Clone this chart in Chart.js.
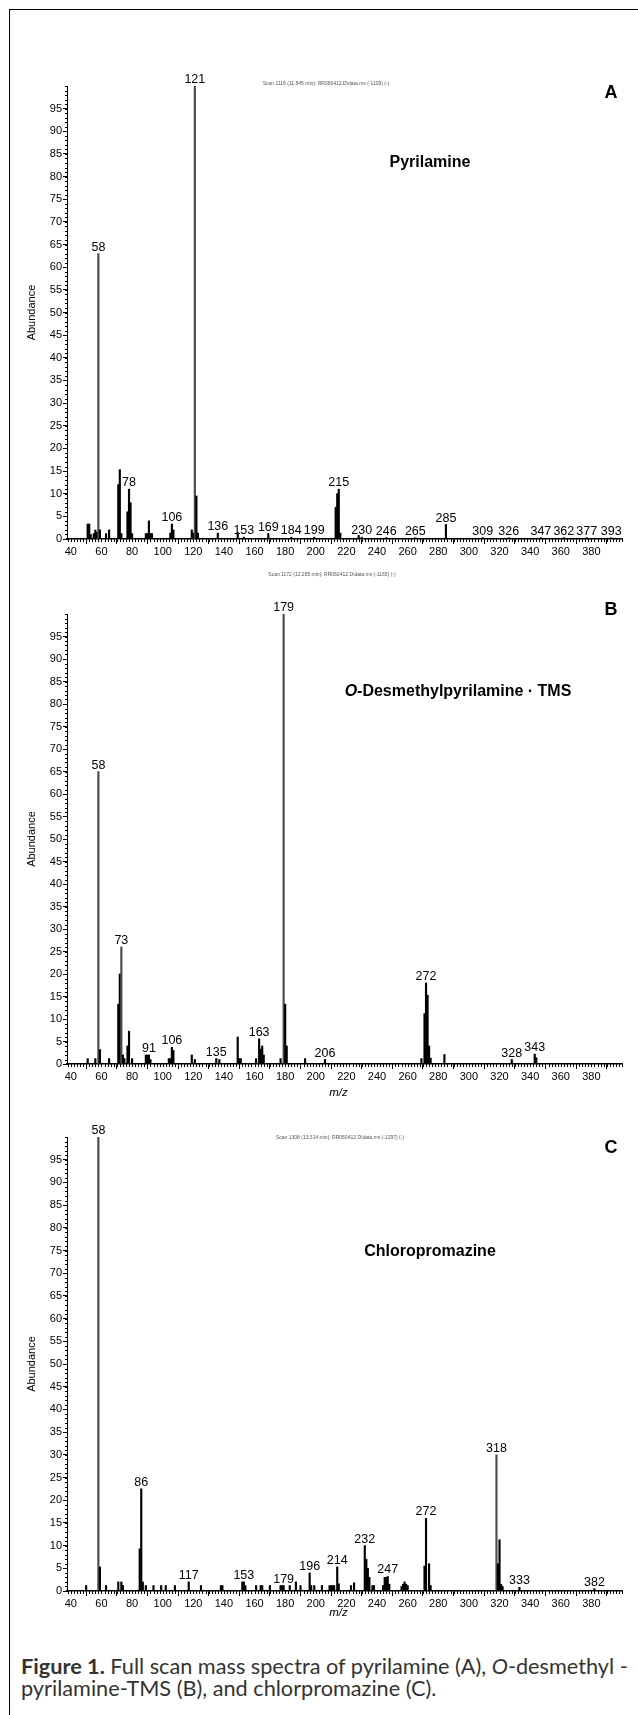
<!DOCTYPE html>
<html>
<head>
<meta charset="utf-8">
<script src="https://cdn.jsdelivr.net/npm/chart.js@4.4.0/dist/chart.umd.min.js"></script>
<style>
  html, body { margin: 0; padding: 0; background: #fff; }
  #page { position: relative; width: 638px; height: 1715px; overflow: hidden; background: #fff; }
  .frame { position: absolute; left: 9px; top: 9px; width: 700px; height: 1800px; border-left: 1px solid #000; border-top: 1px solid #000; }
  .panel { position: absolute; left: 0; }
  #caption { position: absolute; left: 21px; top: 1655px; font-family: Lato, "Open Sans", sans-serif; color: #333; line-height: 22px; white-space: nowrap; }
  #caption b { font-weight: 700; }
</style>
</head>
<body>
<div id="page">
  <div class="frame"></div>
  <canvas id="chartA" class="panel" width="638" height="565" style="top:0px"></canvas>
  <canvas id="chartB" class="panel" width="638" height="545" style="top:565px"></canvas>
  <canvas id="chartC" class="panel" width="638" height="520" style="top:1110px"></canvas>
  <div id="caption">
    <div id="capLine1"><b>Figure 1.</b> Full scan mass spectra of pyrilamine (A), <i>O</i>-desmethyl -</div>
    <div>pyrilamine-TMS (B), and chlorpromazine (C).</div>
  </div>
</div>
<script>
// axis ticks
const xTicks = [40, 60, 80, 100, 120, 140, 160, 180, 200, 220, 240, 260, 280, 300, 320, 340, 360, 380];
const yTicks = [0, 5, 10, 15, 20, 25, 30, 35, 40, 45, 50, 55, 60, 65, 70, 75, 80, 85, 90, 95];

// A - pyrilamine
const aMz = [51, 52, 53, 55, 56, 57, 58, 59, 63, 65, 71, 72, 73, 77, 78, 79, 80, 89, 90, 91, 92, 93, 105, 106, 107,
  119, 120, 121, 122, 123, 136, 149, 153, 169, 184, 199, 213, 214, 215, 216, 228, 230, 246, 265, 285,
  309, 326, 347, 362, 377, 393];
const aAb = [3.3, 3.3, 1, 1.2, 2, 1.5, 63, 2, 1.2, 2, 12, 15.3, 1.2, 6, 11, 8, 1.2, 1.2, 1.2, 4, 1.2, 1.2, 1.3, 3.3, 2,
  2, 1.3, 100, 9.5, 1.3, 1.3, 1.5, 0.4, 1.2, 0.4, 0.4, 7, 10, 11, 1.3, 0.8, 0.4, 0.3, 0.3, 3.2,
  0.3, 0.3, 0.3, 0.3, 0.3, 0.3];
const aLabels = [58, 78, 106, 121, 136, 153, 169, 184, 199, 215, 230, 246, 265, 285, 309, 326, 347, 362, 377, 393];

// B - O-desmethylpyrilamine TMS
const bMz = [51, 56, 58, 59, 65, 71, 72, 73, 74, 75, 77, 78, 80, 89, 90, 91, 92, 104, 105, 106, 107, 119, 121, 135, 137,
  149, 150, 151, 161, 163, 164, 165, 166, 177, 179, 180, 181, 193, 206, 269, 271, 272, 273, 274, 275, 284, 328, 343, 344];
const bAb = [1.2, 1.2, 65, 3.2, 1.2, 13.3, 20, 26, 2, 1.2, 4, 7.3, 1.2, 2, 2, 2, 1, 1.2, 1.2, 3.7, 3, 2, 1, 1.2, 1,
  6, 1.2, 1.2, 1.2, 5.6, 3.3, 4, 2, 1.2, 100, 13.3, 4, 1.2, 1, 1.2, 11.2, 18, 15.3, 4, 1.3, 2.1, 1, 2.2, 1.4];
const bLabels = [58, 73, 91, 106, 135, 163, 179, 206, 272, 328, 343];

// C - chlorpromazine
const cMz = [50, 58, 59, 63, 71, 73, 74, 85, 86, 87, 89, 94, 99, 102, 108, 117, 125, 138, 139, 152, 153, 154,
  161, 164, 165, 170, 177, 178, 179, 183, 187, 190, 196, 197, 199, 204, 209, 210, 211, 212, 214, 215, 223, 225,
  232, 233, 234, 235, 237, 238, 244, 245, 246, 247, 248, 256, 257, 258, 259, 260, 271, 272, 274, 275,
  318, 319, 320, 321, 322, 333, 382];
const cAb = [1.2, 100, 5.3, 1.2, 2, 2, 1.2, 9.3, 22.5, 2, 1.2, 1.2, 1.2, 1.2, 1.2, 2, 1.2, 1.2, 1.2, 2, 2, 1.2,
  1.2, 1.2, 1.2, 1.2, 1.2, 1.2, 1.2, 1.2, 2, 1.2, 4, 1.2, 1.2, 1.2, 1.2, 1.2, 1.2, 1.2, 5.3, 1.6, 1.2, 1.8,
  10, 7, 5, 3, 1.2, 1.2, 1.2, 3, 3, 3.2, 1.5, 1, 1.5, 2, 1.5, 1.2, 5.5, 16, 6, 1.2,
  30, 6, 11.3, 1.5, 1, 0.8, 0.5];
const cLabels = [58, 86, 117, 153, 179, 196, 214, 232, 247, 272, 318, 333, 382];

const SANS = '"Liberation Sans", Arial, sans-serif';

// small ticks: every unit on y (the dotted look), every 2 on x
const minorTicks = {
  id: 'minorTicks',
  afterDraw(chart) {
    const { ctx, chartArea: a, scales: { x, y } } = chart;
    ctx.save();
    ctx.strokeStyle = '#000';
    ctx.lineWidth = 1;
    ctx.beginPath();
    for (let v = 0; v <= 100; v++) {
      const py = Math.round(y.getPixelForValue(v)) + 0.5;
      ctx.moveTo(a.left - 2, py);
      ctx.lineTo(a.left, py);
    }
    for (let v = 38; v <= 400; v += 2) {
      const px = Math.round(x.getPixelForValue(v)) + 0.5;
      ctx.moveTo(px, a.bottom);
      ctx.lineTo(px, a.bottom + 3);
    }
    ctx.stroke();
    ctx.restore();
  }
};

// m/z numbers over the labelled peaks
const peakLabels = {
  id: 'peakLabels',
  afterDatasetsDraw(chart, args, opts) {
    const { ctx } = chart;
    const pts = chart.data.datasets[0].data;
    const meta = chart.getDatasetMeta(0);
    ctx.save();
    ctx.font = '12.5px ' + SANS;
    ctx.fillStyle = '#000';
    ctx.textAlign = 'center';
    ctx.textBaseline = 'alphabetic';
    meta.data.forEach((bar, i) => {
      if (opts.marks.includes(pts[i].x)) ctx.fillText(String(pts[i].x), bar.x, bar.y - 3);
    });
    ctx.restore();
  }
};

// panel letter, compound name, scan header, axis titles
const panelText = {
  id: 'panelText',
  afterDraw(chart, args, o) {
    const { ctx, chartArea: a } = chart;
    ctx.save();
    ctx.fillStyle = '#000';
    ctx.textBaseline = 'middle';

    ctx.font = 'bold 18px ' + SANS;
    ctx.textAlign = 'center';
    ctx.fillText(o.letter, 611, o.letterY);

    // compound name, parts may be italic
    let total = 0;
    const parts = o.title.map(p => {
      ctx.font = (p.italic ? 'italic ' : '') + 'bold 16px ' + SANS;
      const w = ctx.measureText(p.text).width;
      total += w;
      return { ...p, w };
    });
    let tx = o.titleX - total / 2;
    ctx.textAlign = 'left';
    parts.forEach(p => {
      ctx.font = (p.italic ? 'italic ' : '') + 'bold 16px ' + SANS;
      ctx.fillText(p.text, tx, o.titleY);
      tx += p.w;
    });

    ctx.fillStyle = '#555';
    ctx.font = '5px ' + SANS;
    ctx.textAlign = 'center';
    ctx.fillText(o.scan, o.scanX, o.scanY);

    ctx.fillStyle = '#000';
    ctx.save();
    ctx.translate(32, (a.top + a.bottom) / 2);
    ctx.rotate(-Math.PI / 2);
    ctx.font = '11px ' + SANS;
    ctx.fillText('Abundance', 0, 0);
    ctx.restore();

    if (o.mzY) {
      ctx.font = 'italic 11.5px ' + SANS;
      ctx.fillText('m/z', (a.left + a.right) / 2 - 6, o.mzY);
    }
    ctx.restore();
  }
};

function makeChart(id, mz, ab, marks, panel) {
  const ctx = document.getElementById(id);
  return new Chart(ctx, {
    type: 'bar',
    data: {
      datasets: [{
        data: mz.map((m, i) => ({ x: m, y: ab[i] })),
        // the tall peaks print as thin grey lines in the original
        backgroundColor: (c) => (c.raw && c.raw.y > 25 ? '#4a4a4a' : '#000'),
        barThickness: 1.5,
        grouped: false
      }]
    },
    options: {
      responsive: false,
      animation: false,
      devicePixelRatio: 1,
      layout: { padding: { top: panel.padTop, left: 9, right: 16, bottom: 0 } },
      plugins: {
        legend: { display: false },
        tooltip: { enabled: false },
        peakLabels: { marks },
        panelText: panel
      },
      scales: {
        x: {
          type: 'linear',
          min: 37.5,
          max: 400,
          offset: false,
          afterBuildTicks: (s) => { s.ticks = xTicks.map(v => ({ value: v })); },
          afterFit: (s) => { s.height = panel.xAxisH; },
          grid: { drawOnChartArea: false, tickLength: 5, color: '#000' },
          border: { color: '#000', width: 1.5 },
          ticks: { font: { family: SANS, size: 11 }, color: '#000', padding: 1, maxRotation: 0, autoSkip: false }
        },
        y: {
          min: 0,
          max: 100,
          afterBuildTicks: (s) => { s.ticks = yTicks.map(v => ({ value: v })); },
          afterFit: (s) => { s.width = 58; },
          grid: { drawOnChartArea: false, tickLength: 4, color: '#000' },
          border: { color: '#000', width: 1 },
          ticks: { font: { family: SANS, size: 11 }, color: '#000', padding: 1 }
        }
      }
    },
    plugins: [minorTicks, peakLabels, panelText]
  });
}

makeChart('chartA', aMz, aAb, aLabels, {
  padTop: 86, xAxisH: 26,
  letter: 'A', letterY: 93,
  title: [{ text: 'Pyrilamine' }], titleX: 430, titleY: 163,
  scan: 'Scan 1116 (11.845 min): RR060412.D\\data.ms (-1109) (-)', scanX: 326, scanY: 84
});
makeChart('chartB', bMz, bAb, bLabels, {
  padTop: 49, xAxisH: 46,
  letter: 'B', letterY: 45,
  title: [{ text: 'O', italic: true }, { text: '-Desmethylpyrilamine \u00b7 TMS' }], titleX: 458, titleY: 127,
  scan: 'Scan 1172 (12.285 min): RR060412.D\\data.ms (-1165) (-)', scanX: 332, scanY: 10,
  mzY: 528
});
makeChart('chartC', cMz, cAb, cLabels, {
  padTop: 27, xAxisH: 39,
  letter: 'C', letterY: 38,
  title: [{ text: 'Chloropromazine' }], titleX: 430, titleY: 142,
  scan: 'Scan 1308 (13.314 min): RR060412.D\\data.ms (-1297) (-)', scanX: 340, scanY: 28,
  mzY: 503
});

// fit the caption's first line to the figure width
const cap = document.getElementById('caption');
const line1 = document.getElementById('capLine1');
cap.style.fontSize = '20px';
line1.style.display = 'inline-block';
const w = line1.getBoundingClientRect().width;
cap.style.fontSize = (20 * 607 / w).toFixed(2) + 'px';
line1.style.display = 'block';
</script>
</body>
</html>
